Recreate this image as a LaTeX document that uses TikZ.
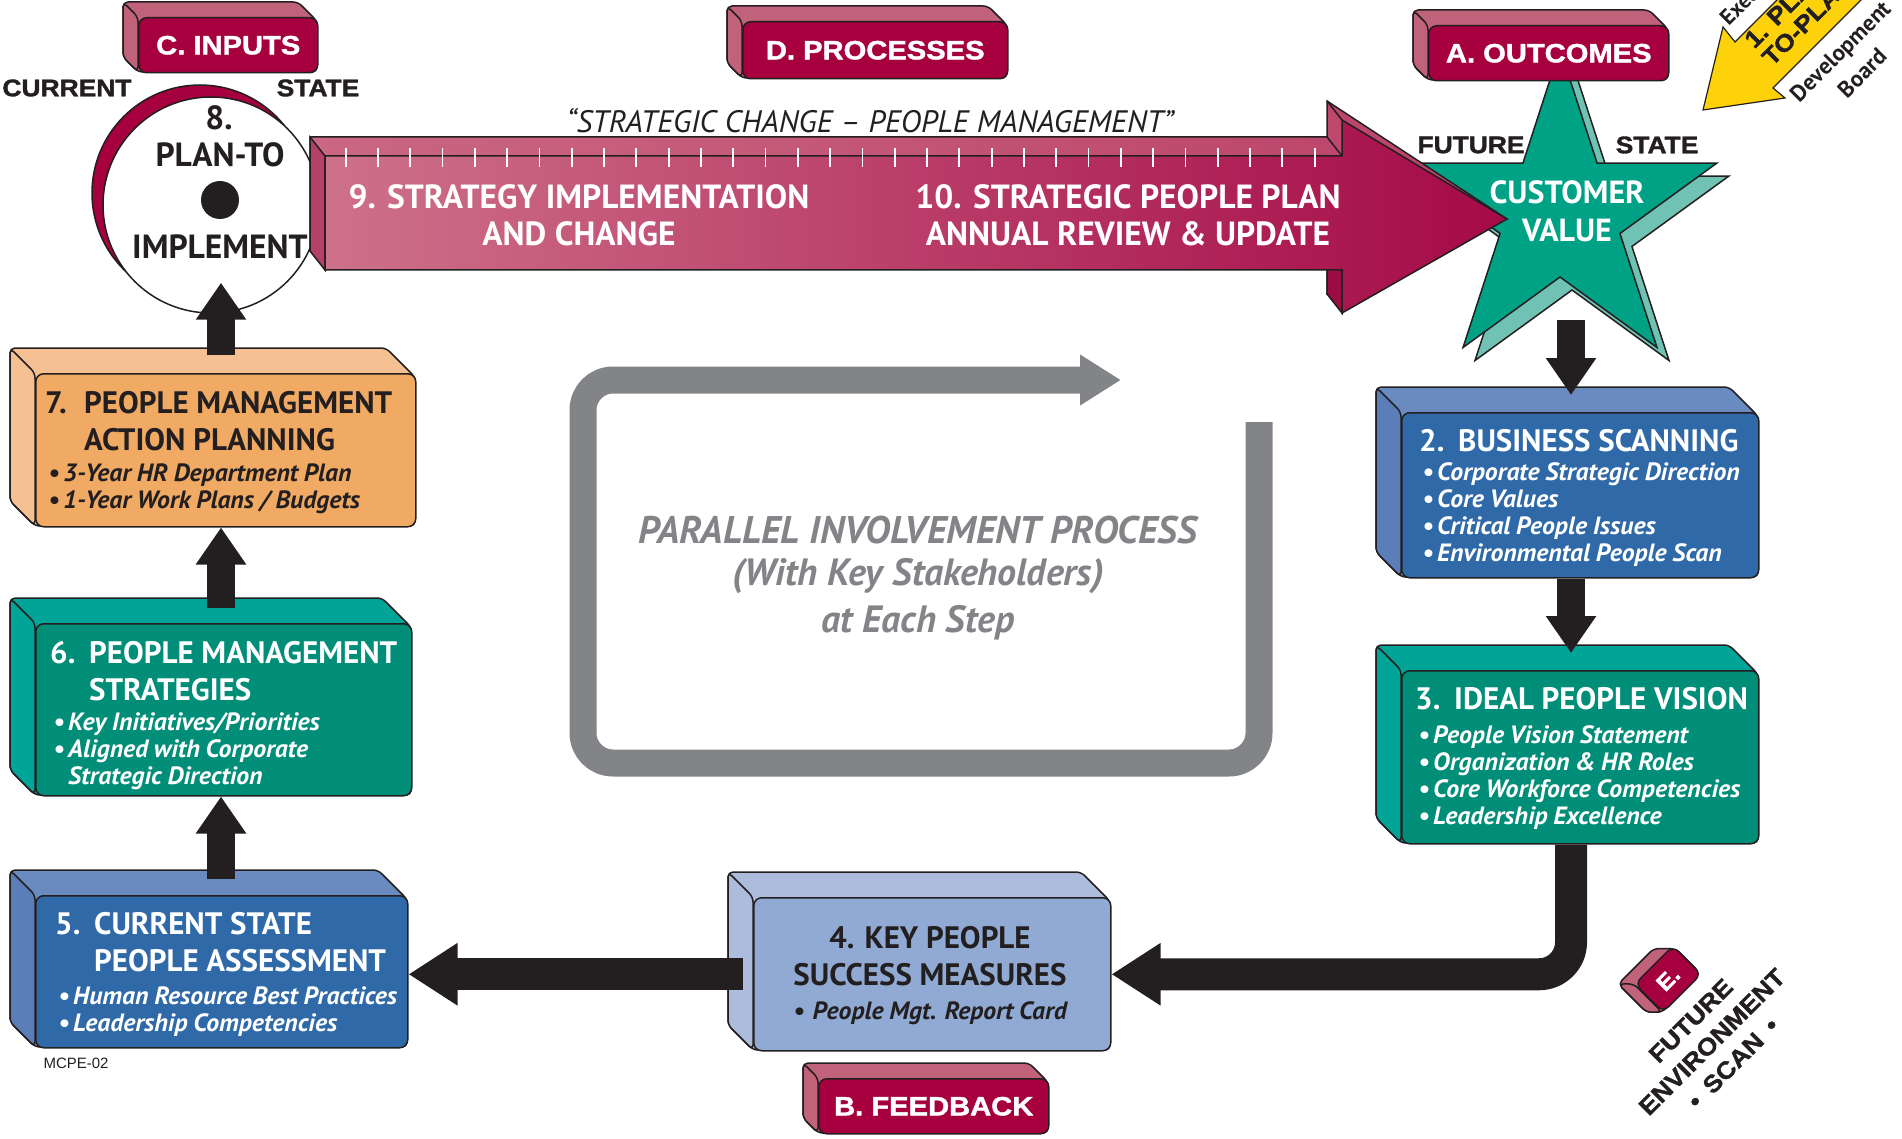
\documentclass[tikz,border=0pt]{standalone}
\usepackage{fontspec}
\setmainfont{PT Sans}
\newfontfamily\itfam[FakeStretch=1.03]{PT Sans}
\newfontfamily\heavy[FakeStretch=1.1,FakeBold=1.5]{Liberation Sans}
\newfontfamily\plain{Liberation Sans}
\usetikzlibrary{shapes.geometric,arrows.meta}

\definecolor{ink}{HTML}{231F20}
\definecolor{crim}{HTML}{A6003F}
\definecolor{crimlt}{HTML}{C0627A}
\definecolor{orng}{HTML}{F0AA64}
\definecolor{orngtop}{HTML}{F5C092}
\definecolor{pteal}{HTML}{008E79}
\definecolor{ptealtop}{HTML}{00A598}
\definecolor{pblue}{HTML}{2F69A8}
\definecolor{pbluetop}{HTML}{6A8BBF}
\definecolor{pblueside}{HTML}{5B7DB8}
\definecolor{lblue}{HTML}{90AAD4}
\definecolor{lbluetop}{HTML}{ADBCDC}
\definecolor{starc}{HTML}{00A286}
\definecolor{starsh}{HTML}{70C3B4}
\definecolor{loopgrey}{HTML}{838487}
\definecolor{yel}{HTML}{FDD20A}
\definecolor{arwfl}{HTML}{CE718A}
\definecolor{arwfr}{HTML}{A50A47}
\definecolor{arwtl}{HTML}{CA6782}
\definecolor{arwtr}{HTML}{BB4269}
\definecolor{arwside}{HTML}{B5416A}
\definecolor{arwdark}{HTML}{9C0C44}

\newcommand{\ttl}{\fontsize{31}{37}\selectfont\bfseries\spaceskip=0.25em\relax}
\newcommand{\itm}{\fontsize{25}{27}\selectfont\itfam\bfseries\itshape\spaceskip=0.23em\relax}
\newcommand{\nm}[1]{\makebox[39pt][l]{#1}}
\newcommand{\bl}{\hspace*{3pt}\makebox[15pt][l]{\textbullet}}

% slab: name, x1, y1, x2, y2 of the face, depth, top colour, side colour, face colour
\newcommand{\slab}[9]{%
  \fill[#7, rim, rounded corners=5pt] (#2-#6,#3-#6) -- (#4-#6-4,#3-#6) -- (#4,#3+4) -- (#4,#5) -- (#2,#5) -- (#2-#6,#5-#6) -- cycle;
  \fill[#8, rim, rounded corners=5pt] (#2-#6,#3-#6) -- (#2,#3) -- (#2,#5) -- (#2-#6,#5-#6) -- cycle;
  \node[face, fill=#9, minimum width={(#4)*1pt-(#2)*1pt}, minimum height={(#5)*1pt-(#3)*1pt}] (#1) at (#2,#3) {};
}

\begin{document}
\begin{tikzpicture}[x=1pt, y=-1pt,
  rim/.style={draw=ink, line width=1.5pt},
  face/.style={draw=ink, line width=1.5pt, rounded corners=8pt, anchor=north west, inner sep=0pt},
  txt/.style={anchor=north west, inner sep=0pt, text width=#1, align=left},
  tag/.style={text=white, font={\heavy\bfseries\fontsize{26.5}{26.5}\selectfont}},
  hvy/.style={text=ink, font={\heavy\bfseries\fontsize{24}{30}\selectfont}},
  cond/.style={font={\bfseries\fontsize{33.5}{37}\selectfont}},
  starshape/.style={star, star points=5, star point ratio=2.618, minimum size=330pt, inner sep=0pt, rim},
  flowv/.style={draw=ink, line width=28pt, -{Triangle[width=48pt,length=37pt]}},
  flowh/.style={draw=ink, line width=32pt, -{Triangle[width=59pt,length=49pt]}},
  notch/.style={draw=white, line width=1.8pt}]

\useasboundingbox (0,0) rectangle (1902,1139);
\clip (0,0) rectangle (1902,1139);

%%------------ outcome star
\node[starshape, fill=starsh] (starbk) at (1572,227) {};
\node[starshape, fill=starc] (star) at (1560,214) {};
\node[text=white, align=center, font={\bfseries\fontsize{32}{38}\selectfont}] (starlbl) at (1567,211) {CUSTOMER\\VALUE};

%%------------ plan-to-implement disc
\node[circle, minimum size=216pt, inner sep=0pt, fill=crim, rim] (planbk) at (200,193) {};
\node[circle, minimum size=216pt, inner sep=0pt, fill=white, rim] (plan) at (211,205) {};
\node[circle, minimum size=38pt, inner sep=0pt, fill=ink] (plandot) at (220,200) {};
\node[cond, text=ink] (plan8) at (219,118) {8.};
\node[cond, text=ink] (planto) at (220,155) {PLAN-TO};
\node[cond, text=ink] (planimp) at (220,247) {IMPLEMENT};

%%------------ process arrow
\shade[left color=arwtl, right color=arwtr, rim] (310,137) -- (1327,137) -- (1327,101) -- (1507,219) -- (1327,294) -- (1327,251) -- (310,251) -- cycle;
\fill[arwside, rim] (310,137) -- (325,156) -- (325,270) -- (310,251) -- cycle;
\fill[arwdark, rim] (1327,251) -- (1342,270) -- (1342,313) -- (1327,294) -- cycle;
\shade[left color=arwfl, right color=arwfr, rim] (325,156) -- (1342,156) -- (1342,120) -- (1507,219) -- (1342,313) -- (1342,270) -- (325,270) -- cycle;
\draw[rim] (1327,137) -- (1342,156) (1327,101) -- (1342,120);
\foreach \i in {0,...,30}
  \draw[notch] ({345.6+32.3*\i},148) -- ++(0,19);
\node[cond, text=white, align=center] (step9) at (579,215) {9. STRATEGY IMPLEMENTATION\\AND CHANGE};
\node[cond, text=white, align=center] (step10) at (1128,215) {10. STRATEGIC PEOPLE PLAN\\ANNUAL REVIEW \& UPDATE};
\node[text=ink, font={\itshape\fontsize{31}{31}\selectfont}] (motto) at (870,121) {“STRATEGIC CHANGE – PEOPLE MANAGEMENT”};

%%------------ state labels
\node[hvy] (curL) at (67,88) {CURRENT};
\node[hvy] (curR) at (318,88) {STATE};
\node[hvy] (futL) at (1471,145) {FUTURE};
\node[hvy] (futR) at (1657,145) {STATE};

%%------------ tags
\slab{inputs}{138}{17}{317}{72}{15}{crimlt}{crimlt}{crim}
\node[tag] (inputst) at (inputs) {C. INPUTS};
\slab{procs}{742}{21}{1007}{78}{15}{crimlt}{crimlt}{crim}
\node[tag] (procst) at (procs) {D. PROCESSES};
\slab{outcomes}{1428}{25}{1668}{80}{15}{crimlt}{crimlt}{crim}
\node[tag] (outcomest) at (outcomes) {A. OUTCOMES};
\slab{feedback}{818}{1078}{1048}{1133}{15}{crimlt}{crimlt}{crim}
\node[tag] (feedbackt) at (feedback) {B. FEEDBACK};

%%------------ steps
\slab{action}{35}{373}{415}{526}{25}{orngtop}{orngtop}{orng}
\node[txt=375pt, text=ink] (actiont) at (45,391) {{\ttl\nm{7.}PEOPLE MANAGEMENT\\\hspace*{39pt}ACTION PLANNING\par}\vspace{4.5pt}{\itm\bl 3-Year HR Department Plan\\\bl 1-Year Work Plans / Budgets\par}};

\slab{strat}{35}{623}{411}{795}{25}{ptealtop}{ptealtop}{pteal}
\node[txt=370pt, text=white] (stratt) at (50,641) {{\ttl\nm{6.}PEOPLE MANAGEMENT\\\hspace*{39pt}STRATEGIES\par}\vspace{3.5pt}{\itm\bl Key Initiatives/Priorities\\\bl Aligned with Corporate\\\hspace*{18pt}Strategic Direction\par}};

\slab{assess}{35}{895}{407}{1047}{25}{pbluetop}{pblueside}{pblue}
\node[txt=370pt, text=white] (assesst) at (55,912) {{\ttl\nm{5.}CURRENT STATE\\\hspace*{39pt}PEOPLE ASSESSMENT\par}\vspace{6.5pt}{\itm\bl Human Resource Best Practices\\\bl Leadership Competencies\par}};

\slab{measure}{753}{897}{1110}{1050}{25}{lbluetop}{lbluetop}{lblue}
\node[txt=345pt, anchor=north, align=flush center, text=ink] (measuret) at (930,926) {{\ttl 4.\hspace{10pt}KEY PEOPLE\\SUCCESS MEASURES\par}\vspace{7.5pt}{\itm\textbullet\hspace{8pt}People Mgt. Report Card\par}};

\slab{scan}{1401}{412}{1758}{577}{25}{pbluetop}{pblueside}{pblue}
\node[txt=350pt, text=white] (scant) at (1419,429) {{\ttl\nm{2.}BUSINESS SCANNING\par}\vspace{2.5pt}{\itm\bl Corporate Strategic Direction\\\bl Core Values\\\bl Critical People Issues\\\bl Environmental People Scan\par}};

\slab{vision}{1401}{670}{1758}{843}{25}{ptealtop}{ptealtop}{pteal}
\node[txt=350pt, text=white] (visiont) at (1415,687) {{\ttl\nm{3.}IDEAL PEOPLE VISION\par}\vspace{7.5pt}{\itm\bl People Vision Statement\\\bl Organization \& HR Roles\\\bl Core Workforce Competencies\\\bl Leadership Excellence\par}};

%%------------ involvement loop
\draw[loopgrey, line width=27pt, rounded corners=30pt, -{Triangle[width=48pt,length=41pt]}] (1259,422) -- (1259,763) -- (583,763) -- (583,380) -- (1121,380);
\node[text=loopgrey, font={\bfseries\itshape\fontsize{38.5}{38.5}\selectfont}] (inv1) at (918,530) {PARALLEL INVOLVEMENT PROCESS};
\node[text=loopgrey, font={\bfseries\itshape\fontsize{38}{38}\selectfont}] (inv2) at (918,576) {(With Key Stakeholders)};
\node[text=loopgrey, font={\bfseries\itshape\fontsize{38}{38}\selectfont}] (inv3) at (918,623) {at Each Step};

%%------------ flow
\coordinate (cr) at (1571,320);
\coordinate (cl) at (221,0);
\draw[flowv, shorten >=17pt] (cr) -- (cr |- scan.north);
\draw[flowv, shorten >=17pt] (cr |- scan.south) -- (cr |- vision.north);
\draw[flowh, rounded corners=32pt] (cr |- vision.south) |- (measure.east);
\draw[flowh, shorten <=10pt] (measure.west) -- (measure.west -| assess.east);
\draw[flowv, shorten <=16pt] (cl |- assess.north) -- (cl |- strat.south);
\draw[flowv, shorten <=15pt] (cl |- strat.north) -- (cl |- action.south);
\draw[flowv, shorten <=18pt, shorten >=-31pt] (cl |- action.north) -- (cl |- plan.south);

%%------------ future environment scan
\begin{scope}[shift={(1667,979)}, rotate=45, transform shape]
\slab{escan}{-27}{-20}{27}{20}{11}{crimlt}{crimlt}{crim}
\node[tag, font={\heavy\bfseries\fontsize{22}{22}\selectfont}] (escant) at (escan) {E.};
\end{scope}
\node[hvy, rotate=45, align=center] (fes) at (1712,1042) {FUTURE\\ENVIRONMENT\\\textbullet\hspace{12pt}SCAN\hspace{12pt}\textbullet};

%%------------ plan-to-plan pointer
\draw[fill=yel, draw=ink, line width=1.2pt] (1703,110) -- (1723,27) -- (1735,42) -- (1935,-158) -- (1973,-112) -- (1773,88) -- (1785,98) -- cycle;
\node[rotate=45, anchor=west, text=ink, font={\bfseries\fontsize{22}{22}\selectfont}] (exec) at (1721,24) {Executive};
\node[rotate=45, anchor=west, align=left, text=ink, font={\heavy\bfseries\fontsize{24}{25}\selectfont}] (ptp) at (1755,55) {1. PLAN-\\TO-PLAN};
\node[rotate=45, align=center, text=ink, font={\bfseries\fontsize{23}{31}\selectfont}] (devb) at (1851,62) {Development\\Board};

\node[anchor=west, text=ink, font={\plain\fontsize{15}{15}\selectfont}] (code) at (40,1063) {MCPE-02};
\end{tikzpicture}
\end{document}
